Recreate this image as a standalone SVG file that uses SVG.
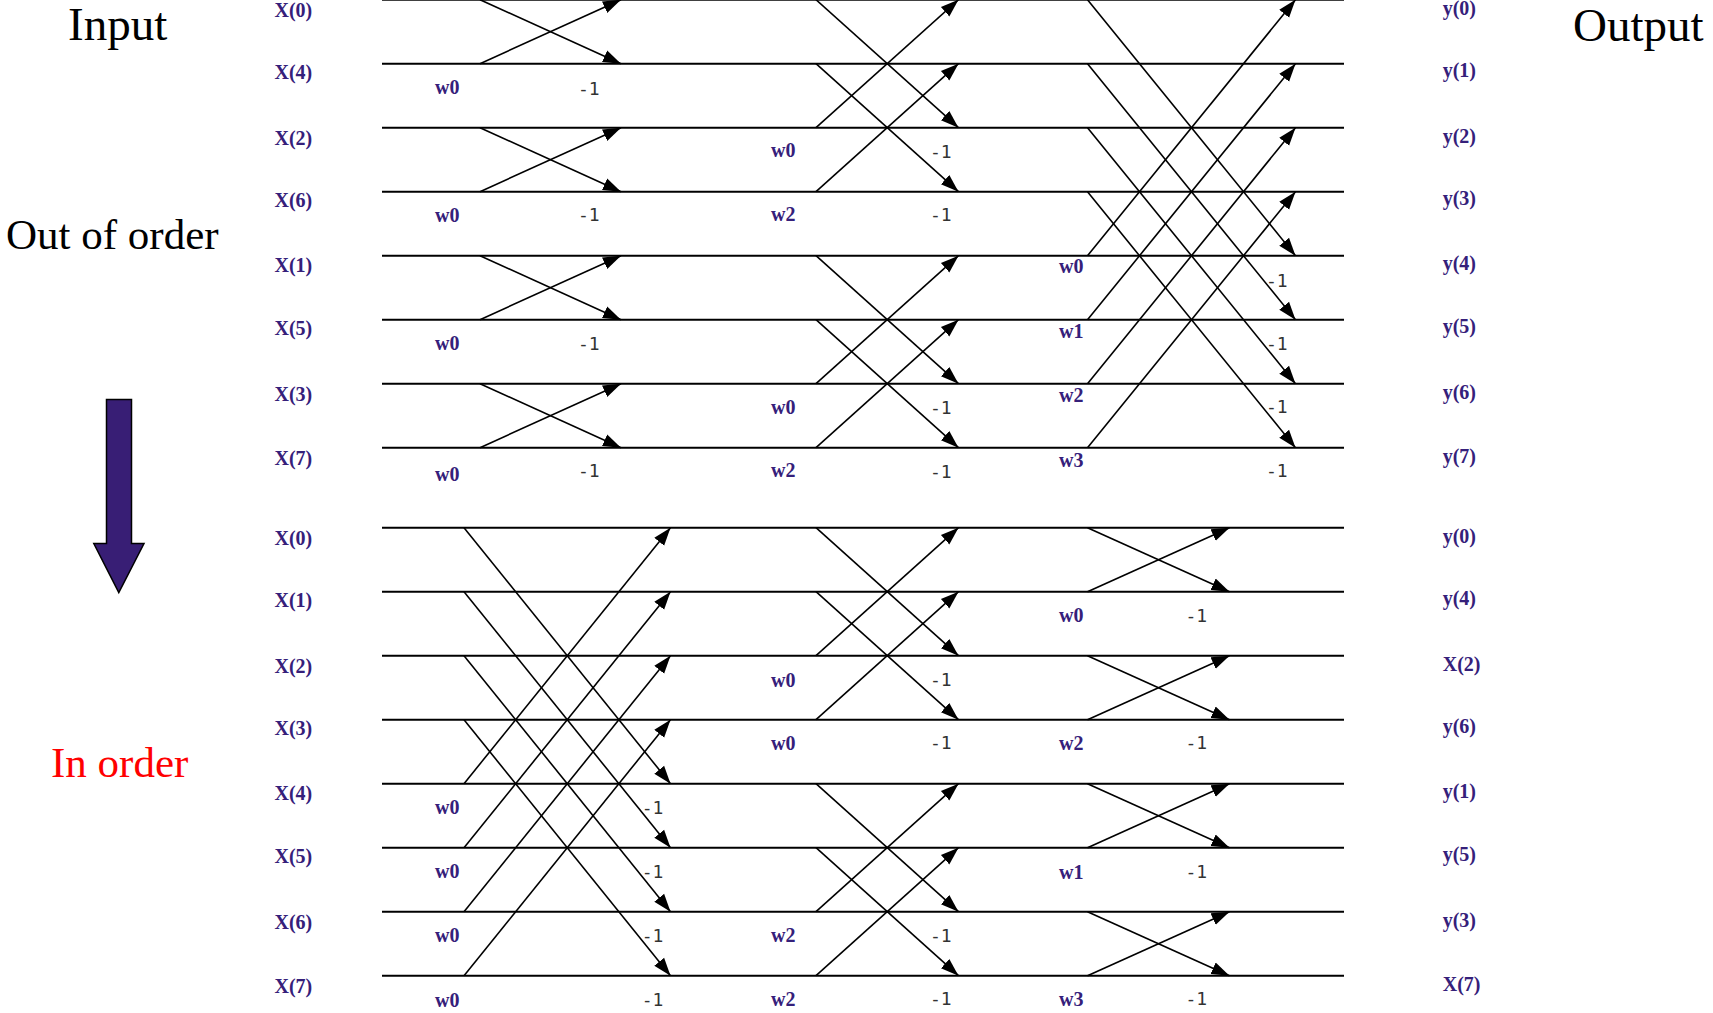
<svg xmlns="http://www.w3.org/2000/svg" width="1713" height="1013" viewBox="0 0 1713 1013">
<style>
.h{stroke:#000;stroke-width:2;fill:none}
.c{stroke:#000;stroke-width:1.6;fill:none;marker-end:url(#ah)}
.lb{font-family:"Liberation Serif","Times New Roman",serif;font-weight:bold;font-size:20px;fill:#35207a}
.m{font-family:"DejaVu Sans Mono","Liberation Mono",monospace;font-size:18px;fill:#333}
.big{font-family:"Liberation Serif","Times New Roman",serif;fill:#000}
</style>
<defs>
<marker id="ah" markerUnits="userSpaceOnUse" markerWidth="19" markerHeight="15" viewBox="0 0 19 15" refX="18" refY="7.5" orient="auto"><path d="M0,1.2 L18,7.5 L0,13.8 z" fill="#000"/></marker>
</defs>
<rect width="1713" height="1013" fill="#fff"/>
<g id="titles">
<text class="big" x="68" y="40" font-size="47">Input</text>
<text class="big" x="1573" y="40.5" font-size="47">Output</text>
<text class="big" x="6" y="249" font-size="43">Out of order</text>
<text class="big" x="51" y="777" font-size="43" style="fill:#ff0000">In order</text>
</g>
<g id="order-arrow">
<polygon points="106.5,399.5 131.5,399.5 131.5,543.5 144,543.5 118.8,592.5 93.8,543.5 106.5,543.5" fill="#381e75" stroke="#000" stroke-width="1.5"/>
</g>
<g id="top-rows">
<g id="t0"><line class="h" x1="382" y1="-0.3" x2="1344" y2="-0.3"/><text class="lb" x="274.5" y="17">X(0)</text><text class="lb" x="1442.7" y="15">y(0)</text></g>
<g id="t1"><line class="h" x1="382" y1="63.7" x2="1344" y2="63.7"/><text class="lb" x="274.5" y="78.5">X(4)</text><text class="lb" x="1442.7" y="76.5">y(1)</text></g>
<g id="t2"><line class="h" x1="382" y1="127.7" x2="1344" y2="127.7"/><text class="lb" x="274.5" y="144.5">X(2)</text><text class="lb" x="1442.7" y="142.5">y(2)</text></g>
<g id="t3"><line class="h" x1="382" y1="191.7" x2="1344" y2="191.7"/><text class="lb" x="274.5" y="207">X(6)</text><text class="lb" x="1442.7" y="205">y(3)</text></g>
<g id="t4"><line class="h" x1="382" y1="255.7" x2="1344" y2="255.7"/><text class="lb" x="274.5" y="271.5">X(1)</text><text class="lb" x="1442.7" y="269.5">y(4)</text></g>
<g id="t5"><line class="h" x1="382" y1="319.7" x2="1344" y2="319.7"/><text class="lb" x="274.5" y="335">X(5)</text><text class="lb" x="1442.7" y="333">y(5)</text></g>
<g id="t6"><line class="h" x1="382" y1="383.7" x2="1344" y2="383.7"/><text class="lb" x="274.5" y="401">X(3)</text><text class="lb" x="1442.7" y="399">y(6)</text></g>
<g id="t7"><line class="h" x1="382" y1="447.7" x2="1344" y2="447.7"/><text class="lb" x="274.5" y="465">X(7)</text><text class="lb" x="1442.7" y="463">y(7)</text></g>
</g>
<g id="bottom-rows">
<g id="b0"><line class="h" x1="382" y1="527.7" x2="1344" y2="527.7"/><text class="lb" x="274.5" y="545">X(0)</text><text class="lb" x="1442.7" y="543">y(0)</text></g>
<g id="b1"><line class="h" x1="382" y1="591.7" x2="1344" y2="591.7"/><text class="lb" x="274.5" y="606.5">X(1)</text><text class="lb" x="1442.7" y="604.5">y(4)</text></g>
<g id="b2"><line class="h" x1="382" y1="655.7" x2="1344" y2="655.7"/><text class="lb" x="274.5" y="673">X(2)</text><text class="lb" x="1442.7" y="671">X(2)</text></g>
<g id="b3"><line class="h" x1="382" y1="719.7" x2="1344" y2="719.7"/><text class="lb" x="274.5" y="735">X(3)</text><text class="lb" x="1442.7" y="733">y(6)</text></g>
<g id="b4"><line class="h" x1="382" y1="783.7" x2="1344" y2="783.7"/><text class="lb" x="274.5" y="799.5">X(4)</text><text class="lb" x="1442.7" y="797.5">y(1)</text></g>
<g id="b5"><line class="h" x1="382" y1="847.7" x2="1344" y2="847.7"/><text class="lb" x="274.5" y="862.5">X(5)</text><text class="lb" x="1442.7" y="860.5">y(5)</text></g>
<g id="b6"><line class="h" x1="382" y1="911.7" x2="1344" y2="911.7"/><text class="lb" x="274.5" y="928.5">X(6)</text><text class="lb" x="1442.7" y="926.5">y(3)</text></g>
<g id="b7"><line class="h" x1="382" y1="975.7" x2="1344" y2="975.7"/><text class="lb" x="274.5" y="992.5">X(7)</text><text class="lb" x="1442.7" y="990.5">X(7)</text></g>
</g>
<g id="connectors">
<line class="c" x1="480" y1="-0.3" x2="621" y2="63.7"/><line class="c" x1="480" y1="63.7" x2="621" y2="-0.3"/>
<line class="c" x1="480" y1="127.7" x2="621" y2="191.7"/><line class="c" x1="480" y1="191.7" x2="621" y2="127.7"/>
<line class="c" x1="480" y1="255.7" x2="621" y2="319.7"/><line class="c" x1="480" y1="319.7" x2="621" y2="255.7"/>
<line class="c" x1="480" y1="383.7" x2="621" y2="447.7"/><line class="c" x1="480" y1="447.7" x2="621" y2="383.7"/>
<line class="c" x1="816" y1="-0.3" x2="958.5" y2="127.7"/><line class="c" x1="816" y1="127.7" x2="958.5" y2="-0.3"/>
<line class="c" x1="816" y1="63.7" x2="958.5" y2="191.7"/><line class="c" x1="816" y1="191.7" x2="958.5" y2="63.7"/>
<line class="c" x1="816" y1="255.7" x2="958.5" y2="383.7"/><line class="c" x1="816" y1="383.7" x2="958.5" y2="255.7"/>
<line class="c" x1="816" y1="319.7" x2="958.5" y2="447.7"/><line class="c" x1="816" y1="447.7" x2="958.5" y2="319.7"/>
<line class="c" x1="1087.5" y1="-0.3" x2="1295.5" y2="255.7"/><line class="c" x1="1087.5" y1="255.7" x2="1295.5" y2="-0.3"/>
<line class="c" x1="1087.5" y1="63.7" x2="1295.5" y2="319.7"/><line class="c" x1="1087.5" y1="319.7" x2="1295.5" y2="63.7"/>
<line class="c" x1="1087.5" y1="127.7" x2="1295.5" y2="383.7"/><line class="c" x1="1087.5" y1="383.7" x2="1295.5" y2="127.7"/>
<line class="c" x1="1087.5" y1="191.7" x2="1295.5" y2="447.7"/><line class="c" x1="1087.5" y1="447.7" x2="1295.5" y2="191.7"/>
<line class="c" x1="464" y1="527.7" x2="670.5" y2="783.7"/><line class="c" x1="464" y1="783.7" x2="670.5" y2="527.7"/>
<line class="c" x1="464" y1="591.7" x2="670.5" y2="847.7"/><line class="c" x1="464" y1="847.7" x2="670.5" y2="591.7"/>
<line class="c" x1="464" y1="655.7" x2="670.5" y2="911.7"/><line class="c" x1="464" y1="911.7" x2="670.5" y2="655.7"/>
<line class="c" x1="464" y1="719.7" x2="670.5" y2="975.7"/><line class="c" x1="464" y1="975.7" x2="670.5" y2="719.7"/>
<line class="c" x1="816" y1="527.7" x2="958.5" y2="655.7"/><line class="c" x1="816" y1="655.7" x2="958.5" y2="527.7"/>
<line class="c" x1="816" y1="591.7" x2="958.5" y2="719.7"/><line class="c" x1="816" y1="719.7" x2="958.5" y2="591.7"/>
<line class="c" x1="816" y1="783.7" x2="958.5" y2="911.7"/><line class="c" x1="816" y1="911.7" x2="958.5" y2="783.7"/>
<line class="c" x1="816" y1="847.7" x2="958.5" y2="975.7"/><line class="c" x1="816" y1="975.7" x2="958.5" y2="847.7"/>
<line class="c" x1="1087.5" y1="527.7" x2="1229.5" y2="591.7"/><line class="c" x1="1087.5" y1="591.7" x2="1229.5" y2="527.7"/>
<line class="c" x1="1087.5" y1="655.7" x2="1229.5" y2="719.7"/><line class="c" x1="1087.5" y1="719.7" x2="1229.5" y2="655.7"/>
<line class="c" x1="1087.5" y1="783.7" x2="1229.5" y2="847.7"/><line class="c" x1="1087.5" y1="847.7" x2="1229.5" y2="783.7"/>
<line class="c" x1="1087.5" y1="911.7" x2="1229.5" y2="975.7"/><line class="c" x1="1087.5" y1="975.7" x2="1229.5" y2="911.7"/>
</g>
<g id="weights">
<text class="lb" x="435" y="94">w0</text><text class="m" x="578" y="94.5">-1</text>
<text class="lb" x="435" y="221.5">w0</text><text class="m" x="578" y="220.5">-1</text>
<text class="lb" x="435" y="350">w0</text><text class="m" x="578" y="349.5">-1</text>
<text class="lb" x="435" y="480.5">w0</text><text class="m" x="578" y="476.5">-1</text>
<text class="lb" x="771" y="157.3">w0</text><text class="m" x="930" y="157.5">-1</text>
<text class="lb" x="771" y="220.8">w2</text><text class="m" x="930" y="221">-1</text>
<text class="lb" x="771" y="413.5">w0</text><text class="m" x="930" y="414">-1</text>
<text class="lb" x="771" y="477.2">w2</text><text class="m" x="930" y="477.5">-1</text>
<text class="lb" x="1059" y="273.2">w0</text><text class="m" x="1266" y="286.5">-1</text>
<text class="lb" x="1059" y="338.2">w1</text><text class="m" x="1266" y="350">-1</text>
<text class="lb" x="1059" y="401.5">w2</text><text class="m" x="1266" y="413.2">-1</text>
<text class="lb" x="1059" y="466.5">w3</text><text class="m" x="1266" y="476.5">-1</text>
<text class="lb" x="435" y="814">w0</text><text class="m" x="641.7" y="814">-1</text>
<text class="lb" x="435" y="878.2">w0</text><text class="m" x="641.7" y="877.5">-1</text>
<text class="lb" x="435" y="942.2">w0</text><text class="m" x="641.7" y="941.5">-1</text>
<text class="lb" x="435" y="1006.5">w0</text><text class="m" x="641.7" y="1005.5">-1</text>
<text class="lb" x="771" y="686.5">w0</text><text class="m" x="930" y="685.5">-1</text>
<text class="lb" x="771" y="749.8">w0</text><text class="m" x="930" y="749">-1</text>
<text class="lb" x="771" y="942.2">w2</text><text class="m" x="930" y="941.5">-1</text>
<text class="lb" x="771" y="1006.2">w2</text><text class="m" x="930" y="1005">-1</text>
<text class="lb" x="1059" y="622.3">w0</text><text class="m" x="1185.5" y="622">-1</text>
<text class="lb" x="1059" y="749.8">w2</text><text class="m" x="1185.5" y="749">-1</text>
<text class="lb" x="1059" y="879.2">w1</text><text class="m" x="1185.5" y="877.5">-1</text>
<text class="lb" x="1059" y="1006.2">w3</text><text class="m" x="1185.5" y="1005">-1</text>
</g>
</svg>
